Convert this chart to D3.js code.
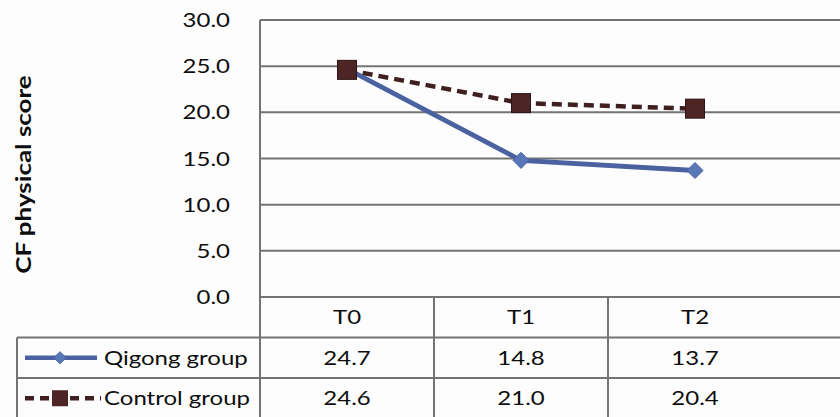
<!DOCTYPE html>
<html>
<head>
<meta charset="utf-8">
<script src="https://cdn.jsdelivr.net/npm/d3@7"></script>
<style>
  html, body { margin: 0; padding: 0; background: #fdfdfd; }
  svg { display: block; }
  text { font-family: Lato, "Open Sans", sans-serif; fill: #0d0d0d; }
</style>
</head>
<body>
<svg id="chart" width="840" height="417"></svg>
<script>
// Time points and mean CF physical scores per group
const timePoints = ["T0", "T1", "T2"];
const qigongValues = [24.7, 14.8, 13.7];
const controlValues = [24.6, 21.0, 20.4];
const seriesNames = ["Qigong group", "Control group"];
const yTicks = [0, 5, 10, 15, 20, 25, 30];

const W = 840, H = 417;
const plot = { left: 260, right: 782, top: 20, bottom: 297 };
const tableLeft = 17, rowH = 40.5;
const gridColor = "#747474";
const qigongColor = "#4a62a0", qigongMarker = "#5877b8";
const controlColor = "#3f1f1f", controlMarker = "#4d2525";
const wide = 1.2;   // horizontal stretch applied to the label type

const svg = d3.select("#chart");

const x = d3.scaleBand().domain(timePoints).range([plot.left, plot.right]).padding(0);
const y = d3.scaleLinear().domain([0, 30]).range([plot.bottom, plot.top]);
const cx = d => x(d) + x.bandwidth() / 2;

// Places a text label at (px, py), widened horizontally
function label(g, px, py, str, anchor) {
  return g.append("text")
    .attr("transform", `translate(${px},${py}) scale(${wide},1)`)
    .attr("dy", "0.35em").attr("text-anchor", anchor || "start")
    .style("font-size", "20px")
    .text(str);
}

// Horizontal gridlines (run out to the right edge)
svg.append("g").selectAll("line").data(yTicks).join("line")
  .attr("x1", plot.left).attr("x2", W)
  .attr("y1", d => y(d)).attr("y2", d => y(d))
  .attr("stroke", gridColor).attr("stroke-width", 2);

// Y axis tick labels
const tickG = svg.append("g");
yTicks.forEach(t => label(tickG, 230, y(t), d3.format(".1f")(t), "end"));

// Y axis title
svg.append("text")
  .attr("transform", `translate(31,${(plot.top + plot.bottom) / 2 + 16}) rotate(-90) scale(1.3,1)`)
  .attr("text-anchor", "middle")
  .style("font-size", "20px").style("font-weight", "bold")
  .text("CF physical score");

// Data table grid
const rowTops = [plot.bottom, plot.bottom + rowH, plot.bottom + 2 * rowH];
const tbl = svg.append("g").attr("stroke", gridColor).attr("stroke-width", 2);
tbl.append("line").attr("x1", tableLeft).attr("x2", W)
  .attr("y1", rowTops[1]).attr("y2", rowTops[1]);
tbl.append("line").attr("x1", tableLeft).attr("x2", W)
  .attr("y1", rowTops[2]).attr("y2", rowTops[2]);
tbl.append("line").attr("x1", tableLeft).attr("x2", tableLeft)
  .attr("y1", rowTops[1]).attr("y2", H);
tbl.append("line").attr("x1", plot.left).attr("x2", plot.left)
  .attr("y1", plot.top).attr("y2", H);
tbl.selectAll("line.col").data(timePoints.slice(1)).join("line").attr("class", "col")
  .attr("x1", d => x(d)).attr("x2", d => x(d))
  .attr("y1", plot.bottom).attr("y2", H);

// Table header and values
const cellMid = i => rowTops[i] + rowH / 2;
const tableText = svg.append("g");
timePoints.forEach(t => label(tableText, cx(t), cellMid(0), t, "middle"));
[qigongValues, controlValues].forEach((vals, r) => {
  vals.forEach((v, i) => label(tableText, cx(timePoints[i]), cellMid(r + 1), d3.format(".1f")(v), "middle"));
});

// Series lines
const line = d3.line().x(d => cx(d.t)).y(d => y(d.v));
const qData = timePoints.map((t, i) => ({ t, v: qigongValues[i] }));
const cData = timePoints.map((t, i) => ({ t, v: controlValues[i] }));

svg.append("path").datum(qData).attr("d", line)
  .attr("fill", "none").attr("stroke", qigongColor).attr("stroke-width", 4.8);
const diamond = d3.symbol().type(d3.symbolDiamond2).size(165);
svg.append("g").selectAll("path").data(qData).join("path")
  .attr("transform", d => `translate(${cx(d.t)},${y(d.v)})`)
  .attr("d", diamond).attr("fill", qigongMarker).attr("stroke", qigongColor).attr("stroke-width", 1);

svg.append("path").datum(cData).attr("d", line)
  .attr("fill", "none").attr("stroke", controlColor).attr("stroke-width", 4.5)
  .attr("stroke-dasharray", "10,6");
svg.append("g").selectAll("rect").data(cData).join("rect")
  .attr("x", d => cx(d.t) - 9.5).attr("y", d => y(d.v) - 9.5)
  .attr("width", 19).attr("height", 19)
  .attr("fill", controlMarker).attr("stroke", "#2e1414").attr("stroke-width", 1);

// Legend keys inside the table
const keyX0 = 25, keyX1 = 97, keyMid = 60;
svg.append("line").attr("x1", keyX0).attr("x2", keyX1)
  .attr("y1", cellMid(1)).attr("y2", cellMid(1))
  .attr("stroke", qigongColor).attr("stroke-width", 4.5);
svg.append("path").attr("transform", `translate(${keyMid},${cellMid(1)})`)
  .attr("d", d3.symbol().type(d3.symbolDiamond2).size(95))
  .attr("fill", qigongMarker).attr("stroke", qigongColor);
svg.append("line").attr("x1", keyX0).attr("x2", keyX1 + 4)
  .attr("y1", cellMid(2)).attr("y2", cellMid(2))
  .attr("stroke", controlColor).attr("stroke-width", 4.5).attr("stroke-dasharray", "9,6");
svg.append("rect").attr("x", keyMid - 8).attr("y", cellMid(2) - 8)
  .attr("width", 16).attr("height", 16).attr("fill", controlMarker);

const legendText = svg.append("g");
seriesNames.forEach((n, i) => label(legendText, 104, cellMid(i + 1), n, "start"));
</script>
</body>
</html>
